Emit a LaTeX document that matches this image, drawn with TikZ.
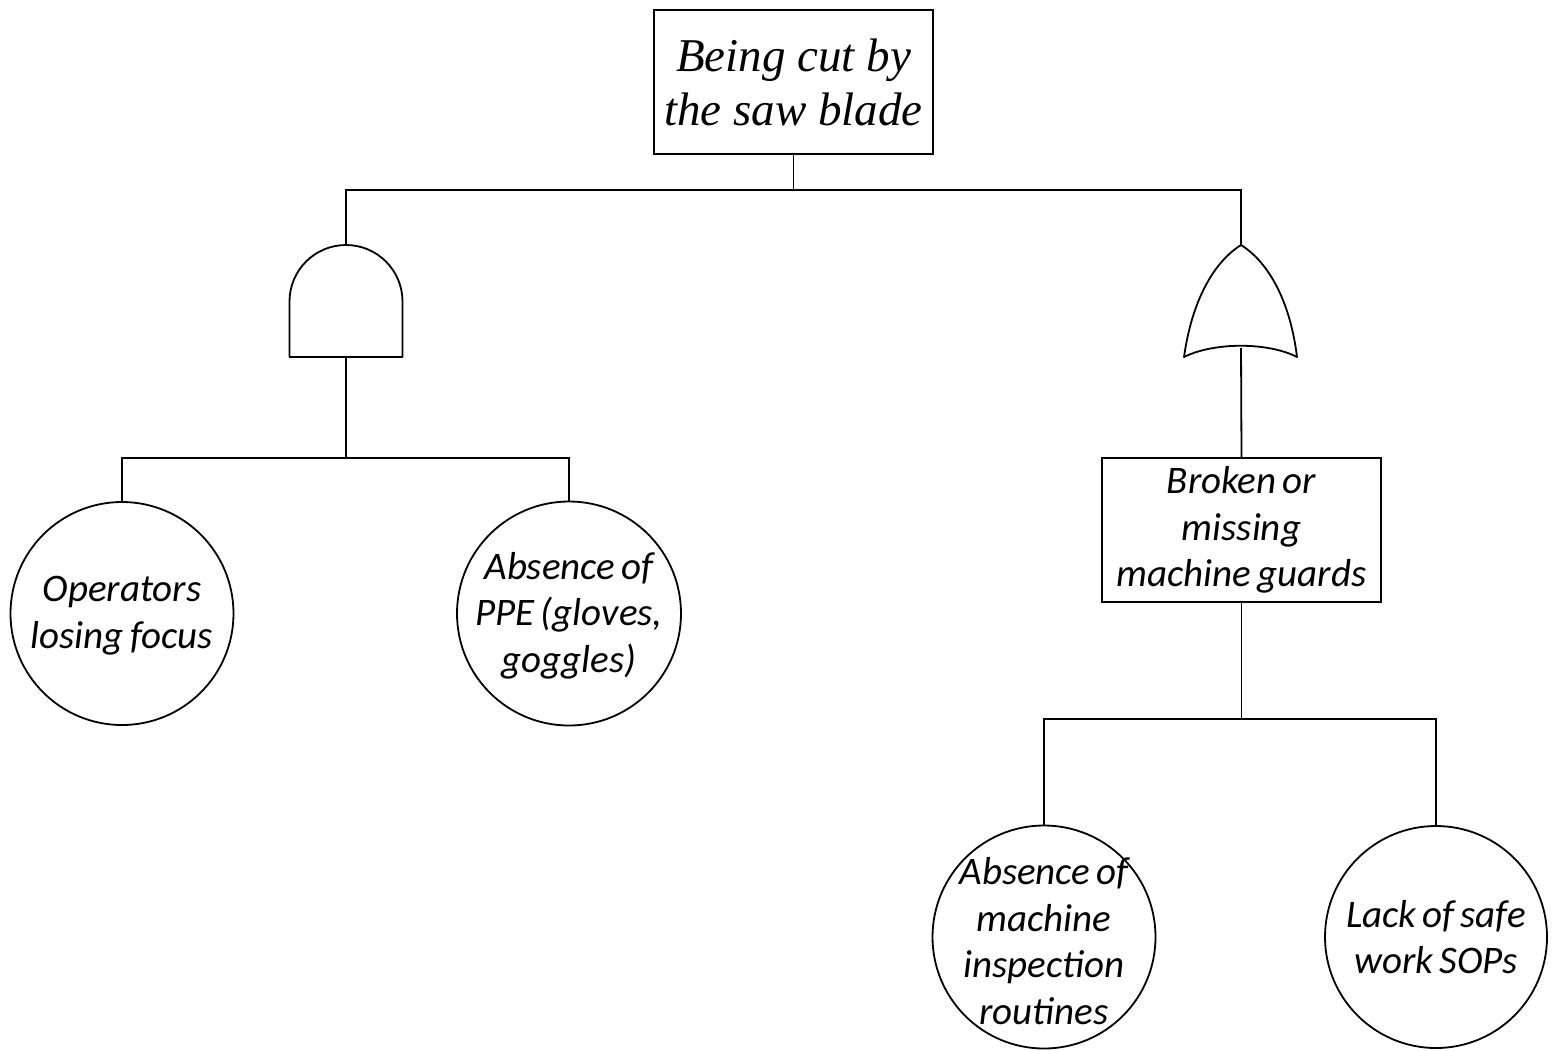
\documentclass[tikz,border=0pt]{standalone}
\usepackage{fontspec}
\setmainfont{Carlito}[WordSpace=0.7]
\newfontfamily\titlefont{Liberation Serif}
\begin{document}
\begin{tikzpicture}[x=1pt,y=1pt,line width=1.8pt,
  evbox/.style={draw,rectangle,inner sep=0pt,minimum width=279pt,minimum height=144pt},
  basic/.style={draw,circle,inner sep=0pt},
  lbl/.style={align=center,inner sep=0pt,font=\itshape\fontsize{39}{46.5}\selectfont},
  gate/.style={draw,line join=round}]
\useasboundingbox (0,0) rectangle (1554,-1050);
% top event
\node[evbox,align=center,font=\titlefont\itshape\fontsize{47}{54}\selectfont] (top) at (793.5,-82) {Being cut by\\the saw blade};
% gate anchors
\coordinate (andtop) at (346,-245);
\coordinate (andbot) at (346,-357);
\coordinate (ortop) at (1241,-245);
\coordinate (orbot) at (1241,-348);
% AND gate
\draw[gate] (289.5,-357) -- (289.5,-301.5) arc[start angle=180,end angle=0,radius=56.5] -- (402.5,-357) -- cycle;
% OR gate
\draw[gate] (1184,-357) .. controls (1192,-300) and (1214,-262) .. (ortop)
  .. controls (1268,-262) and (1290,-300) .. (1297,-357)
  .. controls (1268,-342) and (1214,-342) .. cycle;
% intermediate event
\node[evbox,lbl,draw] (mg) at (1241.5,-530) {Broken or\\missing\\machine guards};
% basic events
\node[basic,minimum size=223pt] (c1) at (122,-613.5) {};
\node[lbl] (t1) at ([yshift=-2pt]c1) {Operators\\losing focus};
\node[basic,minimum size=224pt] (c2) at (569,-613.5) {};
\node[lbl] (t2) at ([yshift=-2pt]c2) {Absence of\\PPE (gloves,\\goggles)};
\node[basic,minimum size=223pt] (c3) at (1044,-937) {};
\node[lbl] (t3) at ([yshift=-4pt]c3) {Absence of\\machine\\inspection\\routines};
\node[basic,minimum size=222pt] (c4) at (1436,-937) {};
\node[lbl] (t4) at (c4) {Lack of safe\\work SOPs};
% connectors
\draw (top.south) -- ++(0,-35) coordinate (j1);
\draw (andtop) -- (andtop |- j1) -- (ortop |- j1) -- (ortop);
\draw (andbot) -- ++(0,-101) coordinate (j2);
\draw (c1.north) |- (j2) -| (c2.north);
\draw (orbot) -- (mg.north);
\draw (mg.south) -- ++(0,-116) coordinate (j3);
\draw (c3.north) |- (j3) -| (c4.north);
\end{tikzpicture}
\end{document}
